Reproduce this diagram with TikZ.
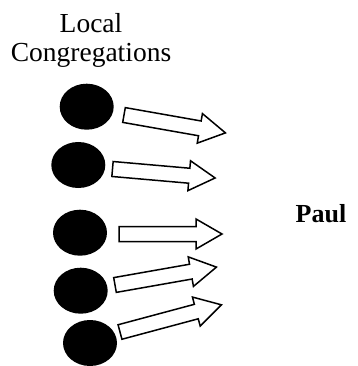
\documentclass[tikz,border=0pt]{standalone}
\usepackage{fontspec}
\setmainfont{Liberation Serif}
\usepackage{tikz}
\usetikzlibrary{shapes.geometric}

\begin{document}
\begin{tikzpicture}[x=1pt, y=-1pt,
    congregation/.style={ellipse, fill=black, minimum width=54pt, minimum height=46pt, inner sep=0pt},
    blockarrow/.style={draw=black, fill=white, line width=1.5pt, line join=miter}]
        \useasboundingbox (0,0) rectangle (357,366);
        % Label above the congregations
        \node[align=center, font=\fontsize{27.5}{29}\selectfont] (title) at (91,40) {Local\\Congregations};
        % Local congregations
        \node[congregation] (c1) at (86.7,106.7) {};
        \node[congregation] (c2) at (78.3,165) {};
        \node[congregation] (c3) at (80,232.7) {};
        \node[congregation] (c4) at (80.7,290.7) {};
        \node[congregation] (c5) at (90,343) {};
        % Tails of the arrows
        \coordinate (tail1) at (124,115);
        \coordinate (tail2) at (112.5,169);
        \coordinate (tail3) at (119,234);
        \coordinate (tail4) at (115,285);
        \coordinate (tail5) at (120,332);
        % Block arrows
        \foreach \i/\ang/\len in {1/-10/103, 2/-5/103, 3/0/103, 4/10/103, 5/15/105}
            \draw[blockarrow, shift={(tail\i)}, rotate=\ang]
                (0,-7.5) -- (\len-26,-7.5) -- (\len-26,-15) -- (\len,0)
                -- (\len-26,15) -- (\len-26,7.5) -- (0,7.5) -- cycle;
        % Paul
        \node[font=\fontsize{26}{29}\selectfont\bfseries, anchor=base] (paul) at (321,222) {Paul};
    \end{tikzpicture}
\end{document}
